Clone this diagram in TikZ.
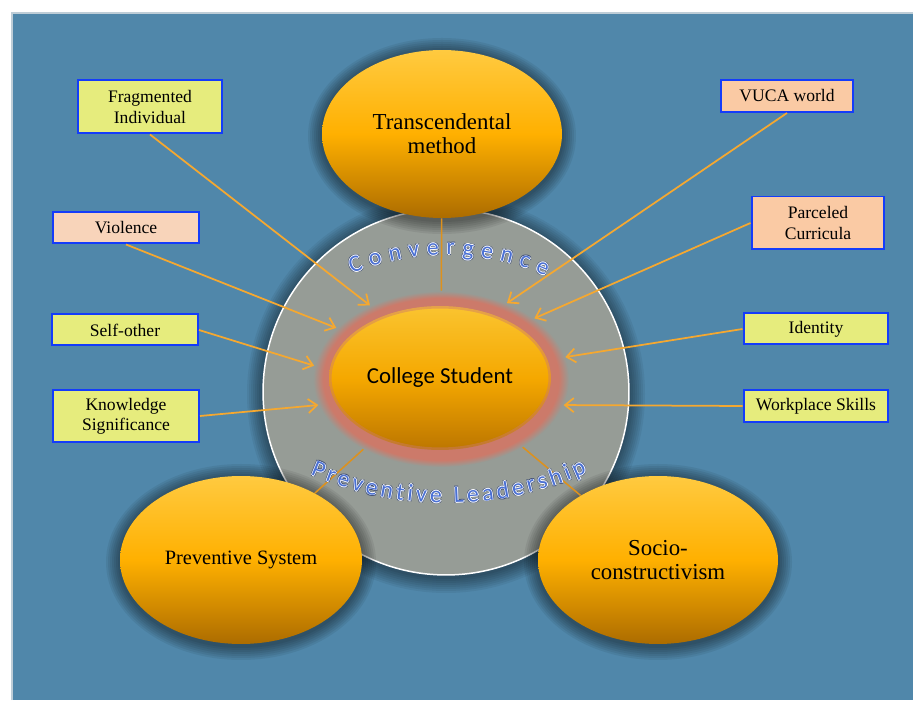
\documentclass[tikz,border=0pt]{standalone}
\usepackage{fontspec}
\setmainfont{Liberation Serif}
\newfontfamily\calibrifont{Carlito}
\usepackage{color}
\usepackage{tikz}
\usetikzlibrary{positioning}
\usetikzlibrary{shapes.geometric,arrows.meta,decorations.text}

\definecolor{panelblue}{RGB}{80,135,170}
\definecolor{paneledge}{RGB}{190,205,215}
\definecolor{discgray}{RGB}{150,156,150}
\definecolor{glowred}{RGB}{204,122,106}
\definecolor{amberlight}{RGB}{255,202,64}
\definecolor{amber}{RGB}{255,176,0}
\definecolor{amberdark}{RGB}{172,108,0}
\definecolor{corelight}{RGB}{250,196,48}
\definecolor{coremid}{RGB}{245,168,0}
\definecolor{coredark}{RGB}{188,118,0}
\definecolor{noteyellow}{RGB}{230,236,125}
\definecolor{notepeach}{RGB}{250,202,164}
\definecolor{notepale}{RGB}{248,212,186}
\definecolor{boxblue}{RGB}{20,60,250}
\definecolor{arrowamber}{RGB}{245,168,48}
\definecolor{linkamber}{RGB}{222,145,28}
\definecolor{arcblue}{RGB}{74,112,212}
\definecolor{arcedge}{RGB}{60,76,120}

% soft reddish ring round the student
\pgfdeclareradialshading{haloring}{\pgfpoint{0bp}{0bp}}{color(0bp)=(glowred); color(23bp)=(glowred); color(25bp)=(discgray); color(50bp)=(discgray)}

% the two curved titles on the disc, in one colour
\newcommand\arcwords[1]{%
	\path[decorate, decoration={text along path, text align=fit to path,
		text={|\calibrifont\fontsize{13.5}{16}\selectfont\color{#1}|Convergence}}]
		([shift={(112.5:245)}]446,200) arc[start angle=112.5, end angle=66, radius=245];
	\path[decorate, decoration={text along path, text align=fit to path,
		text={|\calibrifont\fontsize{13.5}{16}\selectfont\color{#1}|Preventive Leadership}}]
		([shift={(246.5:340)}]446,537) arc[start angle=246.5, end angle=294.5, radius=340];
}

\begin{document}
\begin{tikzpicture}[x=0.02cm, y=0.02cm,
	disc/.style={circle, minimum size=7.32cm, fill=discgray, draw=white, line width=0.03cm},
	bigoval/.style={ellipse, minimum width=4.8cm, minimum height=3.36cm, inner sep=0,
		top color=amberlight, bottom color=amberdark, middle color=amber,
		align=center, font=\fontsize{13}{13.7}\selectfont},
	notebox/.style={rectangle, draw=boxblue, line width=0.04cm, fill=noteyellow,
		minimum width=2.92cm, minimum height=0.62cm, inner sep=0, align=center,
		font=\fontsize{10}{11.4}\selectfont},
	feed/.style={draw=arrowamber, line width=0.035cm, -{Straight Barb[length=5pt,width=8pt]}},
	link/.style={draw=linkamber, line width=0.03cm}]
	\fill[white] (0,0) rectangle (913,700);
	\fill[panelblue] (11,0) rectangle (913,688);
	\draw[paneledge, line width=0.04cm] (12,0) -- (12,687) -- (913,687);

	% shadow round the disc
	\foreach \k in {1,...,8}{
		\pgfmathsetmacro\hr{183+2*\k}
		\fill[black, opacity=0.06] (446,306) circle[radius=\hr];
	}
	\node[disc] (disc) at (446,308) {};

	\node[shading=haloring, ellipse, minimum width=5.12cm, minimum height=3.52cm] (student) at (441,321) {};
	\node[ellipse, minimum width=4.44cm, minimum height=2.88cm, inner sep=0,
		top color=corelight, bottom color=coredark, middle color=coremid,
		postaction={draw=glowred, draw opacity=0.45, line width=0.1cm},
		font=\calibrifont\fontsize{13}{15}\selectfont] (core) at (440,322) {College Student};

	% the three ovals and their shadows
	\foreach \cx/\cy/\rx in {442/566/120, 241/140/121, 658/140/120}{
		\foreach \k in {1,...,7}{
			\pgfmathsetmacro\hx{\rx+2*\k}
			\pgfmathsetmacro\hy{84+2*\k}
			\fill[black, opacity=0.065] (\cx,\cy-2) ellipse[x radius=\hx, y radius=\hy];
		}
	}
	\node[bigoval] (method) at (442,566) {Transcendental\\method};
	\node[bigoval, minimum width=4.84cm, font=\fontsize{11.6}{13}\selectfont] (system) at (241,140) {Preventive System};
	\node[bigoval] (socio) at (658,140) {Socio-\\constructivism};
	\draw[link] (method) -- (student);
	\draw[link] (system) -- (student);
	\draw[link] (socio) -- (student);

	% curved titles: dark edge, thin white rim, blue letters
	\foreach \ink/\off/\a in {arcedge/1.4/45, arcedge/1.4/135, arcedge/1.4/225, arcedge/1.4/315,
		white/0.8/0, white/0.8/90, white/0.8/180, white/0.8/270}{
		\begin{scope}[shift={(\a:\off)}]
			\arcwords{\ink}
		\end{scope}
	}
	\arcwords{arcblue}

	% notes on the left
	\node[notebox, minimum width=2.9cm, minimum height=1.06cm] (frag) at (150,593) {Fragmented\\Individual};
	\node[notebox, fill=notepale] (viol) at (126,472) {Violence};
	\node[notebox] (self) at (125,370) {Self-other};
	\node[notebox, minimum height=1.04cm] (know) at (126,284) {Knowledge\\Significance};
	% notes on the right
	\node[notebox, fill=notepeach, minimum width=2.66cm, minimum height=0.64cm] (vuca) at (787,604) {VUCA world};
	\node[notebox, fill=notepeach, minimum width=2.66cm, minimum height=1.06cm] (parc) at (818,477) {Parceled\\Curricula};
	\node[notebox, minimum width=2.9cm] (iden) at (816,371) {Identity};
	\node[notebox, minimum width=2.9cm, minimum height=0.64cm] (work) at (816,294) {Workplace Skills};

	\draw[feed] (frag.south) -- (student.134);
	\draw[feed] (viol.south) -- (student.154);
	\draw[feed] (self.east) -- (student.174);
	\draw[feed] (know.east) -- (student.192);
	\draw[feed] (vuca.south) -- (student.49);
	\draw[feed] (parc.west) -- (student.33);
	\draw[feed] (iden.west) -- (student.10);
	\draw[feed] (work.west) -- (student.-12);

	\pgfresetboundingbox
	\useasboundingbox (0,0) rectangle (913,700);
\end{tikzpicture}
\end{document}
